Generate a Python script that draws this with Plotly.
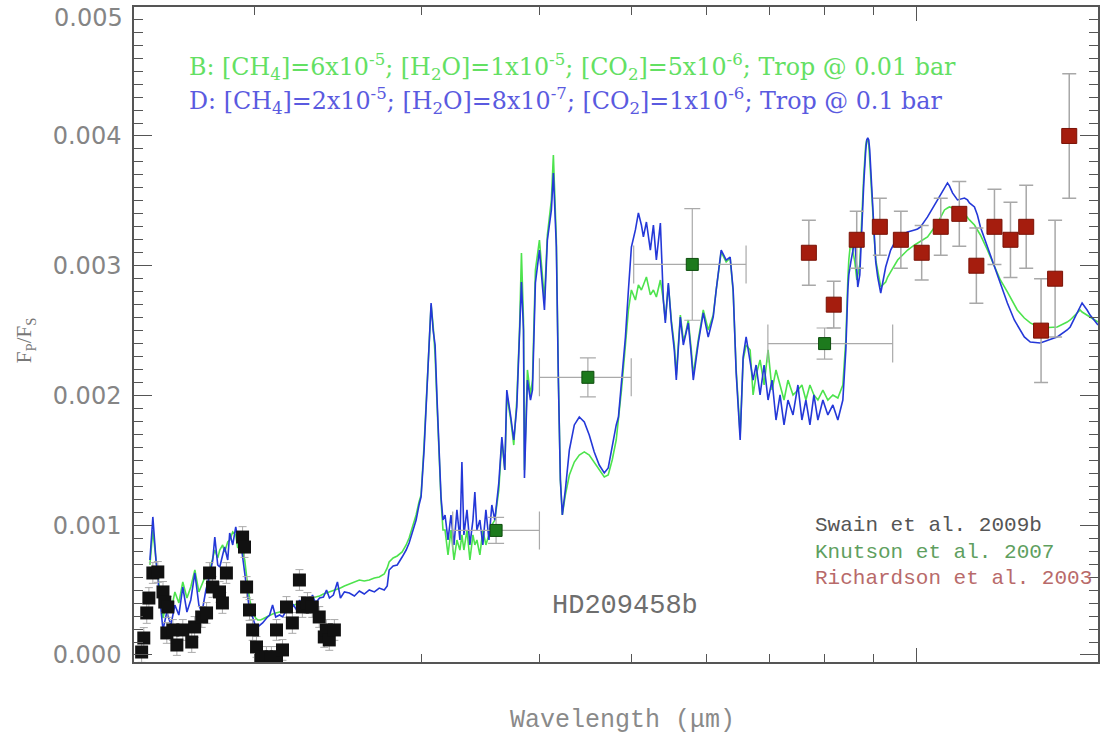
import numpy as np
import plotly.graph_objects as go

# ---------------- data (wavelength in micron, flux contrast in units of 1e-3) ----------------
model_wavelength = [
    1.552, 1.563, 1.575, 1.586, 1.602, 1.617, 1.633, 1.649, 1.665, 1.681, 1.698, 1.714, 1.731, 1.748,
    1.761, 1.778, 1.795, 1.808, 1.817, 1.830, 1.839, 1.852, 1.861, 1.875, 1.884, 1.898, 1.912, 1.921,
    1.930, 1.940, 1.954, 1.968, 1.978, 1.992, 2.007, 2.017, 2.031, 2.041, 2.061, 2.076, 2.091, 2.107,
    2.127, 2.143, 2.163, 2.179, 2.200, 2.217, 2.233, 2.249, 2.265, 2.287, 2.304, 2.321, 2.344, 2.366,
    2.384, 2.401, 2.424, 2.448, 2.466, 2.490, 2.520, 2.551, 2.582, 2.613, 2.645, 2.678, 2.710, 2.743,
    2.763, 2.776, 2.803, 2.831, 2.865, 2.893, 2.914, 2.942, 2.964, 2.985, 3.000, 3.022, 3.044, 3.059,
    3.074, 3.089, 3.104, 3.119, 3.134, 3.149, 3.164, 3.180, 3.203, 3.226, 3.250, 3.273, 3.297, 3.313,
    3.329, 3.354, 3.378, 3.403, 3.419, 3.436, 3.461, 3.486, 3.512, 3.538, 3.563, 3.589, 3.624, 3.651,
    3.677, 3.695, 3.731, 3.758, 3.786, 3.811, 3.829, 3.848, 3.857, 3.885, 3.914, 3.933, 3.961, 4.000,
    4.029, 4.049, 4.078, 4.118, 4.138, 4.158, 4.168, 4.189, 4.209, 4.229, 4.260, 4.302, 4.354, 4.407,
    4.461, 4.515, 4.570, 4.626, 4.683, 4.728, 4.774, 4.821, 4.847, 4.883, 4.930, 4.966, 5.002, 5.051,
    5.088, 5.125, 5.150, 5.188, 5.238, 5.277, 5.315, 5.367, 5.406, 5.432, 5.472, 5.512, 5.552, 5.579,
    5.634, 5.675, 5.702, 5.744, 5.786, 5.814, 5.885, 5.957, 6.029, 6.103, 6.147, 6.222, 6.298, 6.359,
    6.406, 6.453, 6.516, 6.563, 6.611, 6.676, 6.724, 6.773, 6.839, 6.906, 6.973, 7.041, 7.109, 7.179,
    7.249, 7.319, 7.409, 7.498, 7.571, 7.645, 7.720, 7.795, 7.871, 7.967, 8.064, 8.163, 8.262, 8.363,
    8.424, 8.465, 8.485, 8.527, 8.568, 8.610, 8.652, 8.672, 8.715, 8.736, 8.778, 8.800, 8.842, 8.864,
    8.885, 8.907, 8.928, 8.950, 8.993, 9.037, 9.059, 9.103, 9.170, 9.281, 9.326, 9.394, 9.555, 9.742,
    9.789, 9.956, 10.029, 10.102, 10.275, 10.528, 10.707, 10.785, 10.837, 10.918, 11.051, 11.240,
    11.322, 11.377, 11.516, 11.599, 11.684, 11.885, 12.088, 12.176, 12.265, 12.475, 12.688, 12.780,
    13.000, 13.190, 13.514, 13.980, 14.082, 14.427, 14.533, 14.710, 14.888, 14.960, 15.143, 15.253,
    15.402, 15.551,
]

model_B = [
    0.694, 0.963, 0.732, 0.555, 0.285, 0.408, 0.331, 0.486, 0.401, 0.563, 0.439, 0.524, 0.655, 0.486,
    0.539, 0.617, 0.655, 0.748, 0.809, 0.748, 0.809, 0.848, 0.794, 0.871, 0.886, 0.948, 0.925, 0.825,
    0.848, 0.825, 0.732, 0.539, 0.424, 0.331, 0.285, 0.270, 0.270, 0.277, 0.293, 0.308, 0.316, 0.324,
    0.331, 0.347, 0.355, 0.370, 0.385, 0.393, 0.401, 0.416, 0.424, 0.424, 0.439, 0.447, 0.455, 0.470,
    0.478, 0.486, 0.501, 0.509, 0.516, 0.532, 0.547, 0.563, 0.578, 0.570, 0.578, 0.593, 0.601, 0.624,
    0.671, 0.717, 0.748, 0.763, 0.794, 0.848, 0.902, 1.002, 1.079, 1.179, 1.233, 1.618, 2.081, 2.466,
    2.697, 2.543, 2.312, 1.927, 1.541, 1.195, 0.963, 0.963, 0.771, 0.963, 0.732, 0.886, 0.809, 0.925,
    0.809, 0.963, 0.732, 0.925, 0.848, 0.886, 0.771, 0.963, 0.848, 0.925, 1.002, 1.040, 1.272, 1.657,
    1.426, 2.004, 1.811, 1.618, 1.965, 2.505, 3.098, 2.582, 1.426, 2.197, 2.004, 2.119, 2.967, 3.198,
    2.929, 2.736, 3.237, 3.507, 3.854, 3.430, 3.198, 2.119, 1.349, 1.079, 1.233, 1.387, 1.487, 1.541,
    1.565, 1.541, 1.487, 1.426, 1.372, 1.387, 1.503, 1.657, 1.811, 2.042, 2.389, 2.659, 2.813, 2.736,
    2.852, 2.813, 2.852, 2.913, 2.775, 2.813, 2.759, 2.890, 2.736, 2.582, 2.852, 2.582, 2.389, 2.158,
    2.620, 2.428, 2.466, 2.582, 2.351, 2.158, 2.428, 2.659, 2.505, 2.620, 2.813, 3.106, 3.029, 3.060,
    2.798, 2.197, 1.696, 2.274, 2.389, 2.351, 2.004, 2.158, 2.274, 2.081, 2.351, 2.042, 2.197, 2.081,
    1.965, 2.119, 2.004, 2.042, 2.081, 1.965, 2.081, 2.004, 1.965, 2.042, 1.965, 2.004, 1.981, 2.081,
    2.428, 2.890, 3.044, 3.198, 3.121, 3.029, 2.890, 2.929, 3.006, 3.198, 3.584, 3.699, 3.931, 3.969,
    3.969, 3.931, 3.815, 3.661, 3.353, 3.160, 3.044, 2.967, 2.836, 2.875, 2.913, 2.952, 3.044, 3.106,
    3.121, 3.160, 3.175, 3.191, 3.222, 3.329, 3.430, 3.445, 3.453, 3.445, 3.430, 3.399,
    3.376, 3.353, 3.314, 3.276, 3.237, 3.121, 2.998, 2.944, 2.890, 2.798, 2.697, 2.659,
    2.597, 2.559, 2.520, 2.528, 2.528, 2.566, 2.582, 2.620, 2.659, 2.643, 2.620, 2.605,
    2.582, 2.566,
]

model_D = [
    0.732, 1.064, 0.732, 0.501, 0.193, 0.331, 0.231, 0.385, 0.308, 0.524, 0.331, 0.424, 0.632, 0.385,
    0.324, 0.501, 0.617, 0.732, 0.909, 0.694, 0.678, 0.771, 0.832, 0.732, 0.940, 0.848, 0.987, 0.886,
    0.886, 0.809, 0.632, 0.424, 0.331, 0.293, 0.216, 0.216, 0.231, 0.247, 0.285, 0.308, 0.385, 0.293,
    0.308, 0.293, 0.347, 0.331, 0.385, 0.347, 0.424, 0.370, 0.439, 0.401, 0.462, 0.401, 0.439, 0.447,
    0.501, 0.439, 0.462, 0.563, 0.439, 0.486, 0.478, 0.455, 0.493, 0.470, 0.501, 0.486, 0.516, 0.501,
    0.532, 0.655, 0.686, 0.694, 0.755, 0.809, 0.863, 0.963, 1.040, 1.156, 1.218, 1.580, 2.042, 2.428,
    2.713, 2.505, 2.389, 1.965, 1.580, 1.218, 1.040, 1.079, 0.886, 1.079, 0.848, 1.118, 0.886, 1.487,
    0.925, 1.118, 0.848, 1.040, 1.256, 0.963, 1.040, 0.848, 1.118, 0.886, 1.156, 1.040, 1.326, 1.680,
    1.426, 2.042, 1.834, 1.657, 1.911, 2.428, 2.875, 2.505, 1.364, 2.119, 1.965, 2.042, 2.867, 3.121,
    2.867, 2.659, 3.198, 3.430, 3.715, 3.353, 3.144, 2.096, 1.349, 1.079, 1.272, 1.580, 1.773, 1.834,
    1.796, 1.696, 1.565, 1.464, 1.403, 1.441, 1.618, 1.773, 1.834, 2.119, 2.451, 2.813, 3.144, 3.276,
    3.407, 3.314, 3.222, 3.337, 3.121, 3.314, 3.044, 3.329, 2.736, 2.559, 2.867, 2.559, 2.351, 2.119,
    2.605, 2.389, 2.451, 2.559, 2.312, 2.119, 2.405, 2.636, 2.451, 2.605, 2.813, 3.121, 3.044, 3.067,
    2.813, 2.173, 1.657, 2.297, 2.451, 2.274, 2.119, 2.235, 2.004, 2.235, 1.965, 2.119, 1.811, 2.004,
    1.773, 1.965, 1.850, 2.081, 1.811, 1.965, 1.773, 2.004, 1.811, 1.965, 1.850, 1.927, 1.811, 1.965,
    2.351, 2.813, 2.929, 3.029, 3.121, 3.198, 2.967, 2.836, 2.929, 3.121, 3.468, 3.638, 3.892, 3.969,
    3.985, 3.969, 3.892, 3.738, 3.430, 3.121, 3.029, 2.913, 2.790, 2.990, 3.044, 3.121, 3.222, 3.252,
    3.260, 3.276, 3.283, 3.299, 3.376, 3.507, 3.607, 3.638, 3.615, 3.561, 3.507, 3.522,
    3.507, 3.484, 3.453, 3.391, 3.299, 3.144, 2.990, 2.929, 2.867, 2.713, 2.582, 2.543,
    2.451, 2.412, 2.405, 2.443, 2.451, 2.505, 2.528, 2.605, 2.682, 2.713, 2.659, 2.620,
    2.582, 2.543,
]

swain_wavelength = [
    1.521, 1.529, 1.540, 1.548, 1.563, 1.582, 1.602, 1.609, 1.617, 1.621, 1.641, 1.657, 1.681, 1.718,
    1.730, 1.760, 1.781, 1.794, 1.807, 1.838, 1.851, 1.869, 1.944, 1.953, 1.963, 1.977, 1.992, 2.011,
    2.035, 2.060, 2.085, 2.111, 2.111, 2.142, 2.163, 2.194, 2.232, 2.248, 2.276, 2.303, 2.342, 2.371,
    2.383, 2.400, 2.430,
]
swain_flux = [
    0.023, 0.131, 0.324, 0.439, 0.632, 0.640, 0.486, 0.408, 0.170, 0.370, 0.193, 0.077, 0.193, 0.100,
    0.216, 0.293, 0.324, 0.632, 0.524, 0.486, 0.401, 0.632, 0.909, 0.832, 0.524, 0.347, 0.193, 0.062,
    -0.015, -0.015, -0.015, -0.015, 0.193, 0.039, 0.370, 0.247, 0.578, 0.370, 0.401, 0.370, 0.293, 0.139,
    0.193, 0.116, 0.193,
]
swain_error = 0.08

knutson_wavelength = [3.6, 4.5, 5.8, 8.0]
knutson_flux = [0.96, 2.14, 3.01, 2.40]
knutson_error = [0.10, 0.15, 0.43, 0.12]
knutson_band_minus = [0.36, 0.50, 0.77, 1.03]
knutson_band_plus = [0.40, 0.50, 0.81, 1.44]

richardson_wavelength = [7.70, 8.18, 8.65, 9.15, 9.63, 10.13, 10.61, 11.10, 11.57, 12.09, 12.57,
                         13.06, 13.54, 14.01, 14.50]
richardson_flux = [3.1, 2.7, 3.2, 3.3, 3.2, 3.1, 3.3, 3.4, 3.0, 3.3, 3.2, 3.3, 2.5, 2.9, 4.0]
richardson_error = [0.25, 0.18, 0.22, 0.22, 0.22, 0.21, 0.22, 0.25, 0.29, 0.29, 0.29, 0.32,
                    0.40, 0.45, 0.48]

y_tick_values = [0.000, 0.001, 0.002, 0.003, 0.004]
y_tick_labels = ["0.000", "0.001", "0.002", "0.003", "0.004"]
x_tick_values = [2, 3, 4, 5, 6, 7, 8, 9]
x_major_tick = [10]

SCALE = 1e-3  # flux arrays are in units of 1e-3

def s(a):
    return [v * SCALE for v in a]

fig = go.Figure()

fig.add_trace(go.Scatter(x=model_wavelength, y=s(model_B), mode="lines",
                         line=dict(color="#4de34d", width=1.6), name="B", showlegend=False))
fig.add_trace(go.Scatter(x=model_wavelength, y=s(model_D), mode="lines",
                         line=dict(color="#2438d8", width=1.6), name="D", showlegend=False))

fig.add_trace(go.Scatter(
    x=swain_wavelength, y=s(swain_flux), mode="markers",
    marker=dict(symbol="square", size=13, color="#111111"),
    error_y=dict(type="constant", value=swain_error * SCALE, color="#aaaaaa", thickness=1, width=4),
    showlegend=False, cliponaxis=True))

fig.add_trace(go.Scatter(
    x=knutson_wavelength, y=s(knutson_flux), mode="markers",
    marker=dict(symbol="square", size=12, color="#1d7a1d", line=dict(color="#0d4d0d", width=1)),
    error_y=dict(type="data", array=s(knutson_error), color="#aaaaaa", thickness=1.2, width=8),
    error_x=dict(type="data", array=knutson_band_plus, arrayminus=knutson_band_minus,
                 color="#aaaaaa", thickness=1.2, width=19),
    showlegend=False))

fig.add_trace(go.Scatter(
    x=richardson_wavelength, y=s(richardson_flux), mode="markers",
    marker=dict(symbol="square", size=15, color="#a51d0e", line=dict(color="#7a1206", width=1)),
    error_y=dict(type="data", array=s(richardson_error), color="#a8a8a8", thickness=1.5, width=7),
    showlegend=False))

axis_color = "#555555"
fig.update_xaxes(
    type="log", range=[np.log10(1.493), np.log10(15.55)],
    showticklabels=False, showgrid=False, zeroline=False,
    showline=True, linecolor=axis_color, linewidth=1.5, mirror="ticks",
    tickmode="array", tickvals=x_major_tick, ticks="inside", ticklen=14, tickcolor=axis_color,
    minor=dict(tickmode="array", tickvals=x_tick_values, ticks="inside", ticklen=8,
               tickcolor=axis_color, showgrid=False),
)
fig.update_yaxes(
    range=[-0.000054, 0.004994],
    tickmode="array", tickvals=y_tick_values, ticktext=y_tick_labels,
    showgrid=False, zeroline=False,
    showline=True, linecolor=axis_color, linewidth=1.5, mirror="ticks",
    ticks="inside", ticklen=18, tickcolor=axis_color,
    tickfont=dict(family="DejaVu Sans", size=24, color="#858585"),
    ticklabelstandoff=6,
    minor=dict(dtick=0.0001, tick0=0, ticks="inside", ticklen=9, tickcolor=axis_color, showgrid=False),
)

annotations = [
    dict(text="0.005", xref="paper", yref="paper", x=-0.009, y=(662 - 18) / 655, xanchor="right",
         yanchor="middle", showarrow=False, font=dict(family="DejaVu Sans", size=24, color="#858585")),
    dict(text="F<sub>P</sub>/F<sub>S</sub>", xref="paper", yref="paper", x=(25 - 134) / 966,
         y=(662 - 340) / 655, textangle=-90, xanchor="center", yanchor="middle", showarrow=False,
         font=dict(family="Liberation Serif", size=21, color="#777777")),
    dict(text="Wavelength (\u03bcm)", xref="paper", yref="paper", x=(624 - 134) / 966,
         y=(662 - 720) / 655, xanchor="center", yanchor="middle", showarrow=False,
         font=dict(family="Liberation Mono", size=25, color="#8a8a8a")),
    dict(text="B: [CH<sub>4</sub>]=6x10<sup>-5</sup>; [H<sub>2</sub>O]=1x10<sup>-5</sup>; "
              "[CO<sub>2</sub>]=5x10<sup>-6</sup>; Trop @ 0.01 bar",
         xref="paper", yref="paper", x=(187 - 134) / 966, y=(662 - 67) / 655,
         xanchor="left", yanchor="middle", showarrow=False,
         font=dict(family="DejaVu Serif", size=23.8, color="#63e063")),
    dict(text="D: [CH<sub>4</sub>]=2x10<sup>-5</sup>; [H<sub>2</sub>O]=8x10<sup>-7</sup>; "
              "[CO<sub>2</sub>]=1x10<sup>-6</sup>; Trop @ 0.1 bar",
         xref="paper", yref="paper", x=(187 - 134) / 966, y=(662 - 101) / 655,
         xanchor="left", yanchor="middle", showarrow=False,
         font=dict(family="DejaVu Serif", size=23.8, color="#5a5ae0")),
    dict(text="HD209458b", xref="paper", yref="paper", x=(626 - 134) / 966, y=(662 - 606) / 655,
         xanchor="center", yanchor="middle", showarrow=False,
         font=dict(family="Liberation Mono", size=27, color="#6e6e6e")),
    dict(text="Swain et al. 2009b", xref="paper", yref="paper", x=(814 - 134) / 966,
         y=(662 - 525) / 655, xanchor="left", yanchor="middle", showarrow=False,
         font=dict(family="Liberation Mono", size=21, color="#555555")),
    dict(text="Knutson et al. 2007", xref="paper", yref="paper", x=(814 - 134) / 966,
         y=(662 - 552) / 655, xanchor="left", yanchor="middle", showarrow=False,
         font=dict(family="Liberation Mono", size=21, color="#5f9f5f")),
    dict(text="Richardson et al. 2003", xref="paper", yref="paper", x=(814 - 134) / 966,
         y=(662 - 578) / 655, xanchor="left", yanchor="middle", showarrow=False,
         font=dict(family="Liberation Mono", size=21, color="#b86a6a")),
]

fig.update_layout(
    width=1101, height=742,
    margin=dict(l=134, r=1, t=7, b=80),
    paper_bgcolor="white", plot_bgcolor="white",
    showlegend=False,
    annotations=annotations,
)

fig.write_html("out.html")
